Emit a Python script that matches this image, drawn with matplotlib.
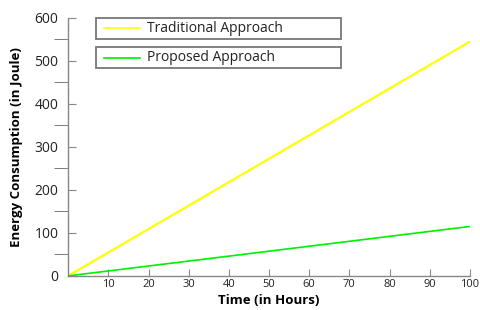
import matplotlib
matplotlib.use("Agg")
import matplotlib.pyplot as plt
from matplotlib.lines import Line2D
from matplotlib.patches import Rectangle

hours = [0, 100]
traditional = [0, 545]
proposed = [0, 115]
x_ticks = [10, 20, 30, 40, 50, 60, 70, 80, 90, 100]
y_ticks = [0, 100, 200, 300, 400, 500, 600]
series_names = ['Traditional Approach', 'Proposed Approach']
series_colors = ['#ffff00', '#00ee00']

plt.rcParams['font.family'] = ['Open Sans', 'DejaVu Sans']

fig = plt.figure(figsize=(4.8, 3.1), dpi=100)
ax = fig.add_axes([0.142, 0.110, 0.837, 0.832])
ax.plot(hours, traditional, color=series_colors[0], lw=1.6, solid_capstyle='butt')
ax.plot(hours, proposed, color=series_colors[1], lw=1.2, solid_capstyle='butt')
ax.set_xlim(0, 100)
ax.set_ylim(0, 600)
ax.set_xticks(x_ticks)
ax.set_yticks(y_ticks)
ax.set_yticks([50, 150, 250, 350, 450, 550], minor=True)
for s in ['top', 'right']:
    ax.spines[s].set_visible(False)
for s in ['left', 'bottom']:
    ax.spines[s].set_color('#888888')
    ax.spines[s].set_linewidth(1.0)
ax.tick_params(axis='both', direction='in', colors='#888888', labelcolor='#222222', labelsize=8.5, width=0.8)
ax.tick_params(axis='y', which='major', length=6, pad=7, labelsize=10)
ax.tick_params(axis='y', which='minor', length=10, color='#666666')
ax.tick_params(axis='x', which='major', length=5, pad=2, labelsize=8)
ax.set_xlabel('Time (in Hours)', fontweight='bold', fontsize=9.5, labelpad=3)
ax.set_ylabel('Energy Consumption (in Joule)', fontweight='bold', fontsize=9.5, labelpad=8)

# legend: two separate boxes
boxes = [(0.919, 0.081), (0.806, 0.081)]
for (y0, h), name, col in zip(boxes, series_names, series_colors):
    ax.add_patch(Rectangle((0.07, y0), 0.61, h, transform=ax.transAxes, fill=True,
                           facecolor='white', edgecolor='#777777', lw=1.3, clip_on=False, zorder=5))
    yc = y0 + h / 2
    ax.add_line(Line2D([0.09, 0.18], [yc, yc], transform=ax.transAxes, color=col, lw=1.2, zorder=6, clip_on=False))
    ax.text(0.197, yc, name, transform=ax.transAxes, va='center', ha='left', fontsize=10,
            color='#222222', zorder=6)

fig.savefig('out.png', dpi=100, facecolor='white')
